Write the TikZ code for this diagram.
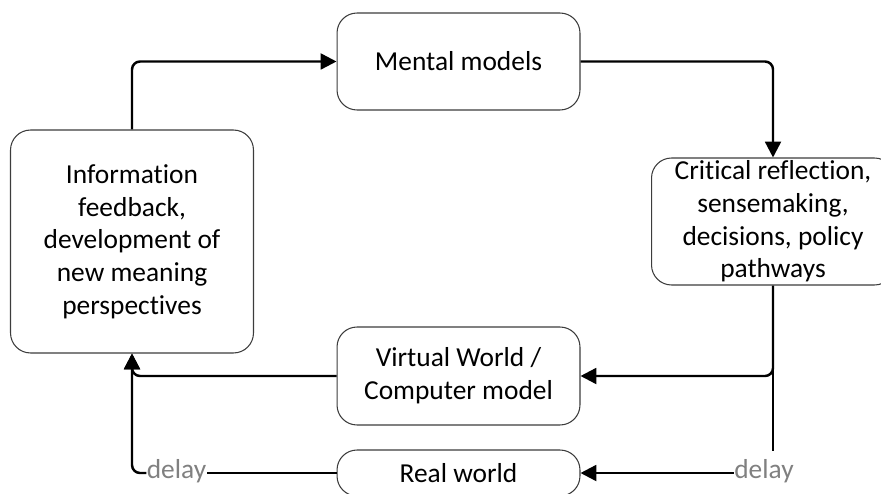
\documentclass[tikz,border=0pt]{standalone}
\usepackage{fontspec}
\setmainfont{Carlito}[Ligatures={NoCommon,NoContextual},RawFeature={-liga;-clig;-calt}]
\usetikzlibrary{arrows.meta}
\definecolor{boxline}{RGB}{60,60,60}
\definecolor{lagtext}{RGB}{128,128,128}

\tikzset{
  stage/.style={draw=boxline, line width=0.6pt, rounded corners=0.4cm,
    align=center, inner sep=0pt, minimum width=4.86cm,
    font=\fontsize{15.6pt}{18.6pt}\selectfont},
  flow/.style={line width=1.4pt, rounded corners=0.16cm,
    -{Triangle[length=9pt,width=9pt]}},
  link/.style={line width=1.4pt, rounded corners=0.16cm},
  lag/.style={text=lagtext, inner sep=0pt,
    font=\fontsize{15.6pt}{18.6pt}\selectfont}
}

\begin{document}
\begin{tikzpicture}[x=0.02cm,y=-0.02cm]
  \clip (0,0) rectangle (881,493);

  % Boxes
  \node[stage, minimum height=1.94cm] (mental) at (458.5,61.5) {Mental models};
  \node[stage, minimum height=4.46cm] (info) at (132,241.5)
    {Information\\feedback,\\development of\\new meaning\\perspectives};
  \node[stage, minimum height=2.54cm] (crit) at (773,221.5)
    {Critical reflection,\\sensemaking,\\decisions, policy\\pathways};
  \node[stage, minimum height=1.96cm] (virt) at (458.5,376)
    {Virtual World /\\Computer model};
  \node[stage, minimum height=0.92cm] (real) at (458.5,473) {Real world};

  % Delay labels
  \node[lag] (dlyL) at (176.5,471) {delay};
  \node[lag] (dlyR) at (764,471) {delay};

  % Main loop
  \draw[flow] (info.north) |- (mental.west);
  \draw[flow] (mental.east) -| (crit.north);
  \draw[flow] (crit.south) |- (virt.east);
  \draw[flow] (virt.west) -| (info.south);

  % Real world loop
  \draw[link] (crit.south) -- ([yshift=0.16cm]dlyR.north -| crit.south);
  \draw[flow] (dlyR.west |- real.east) -- (real.east);
  \draw[link] (real.west) -- (real.west -| dlyL.east);
  \draw[flow] (dlyL.west |- real.west) -| (info.south);
\end{tikzpicture}
\end{document}
